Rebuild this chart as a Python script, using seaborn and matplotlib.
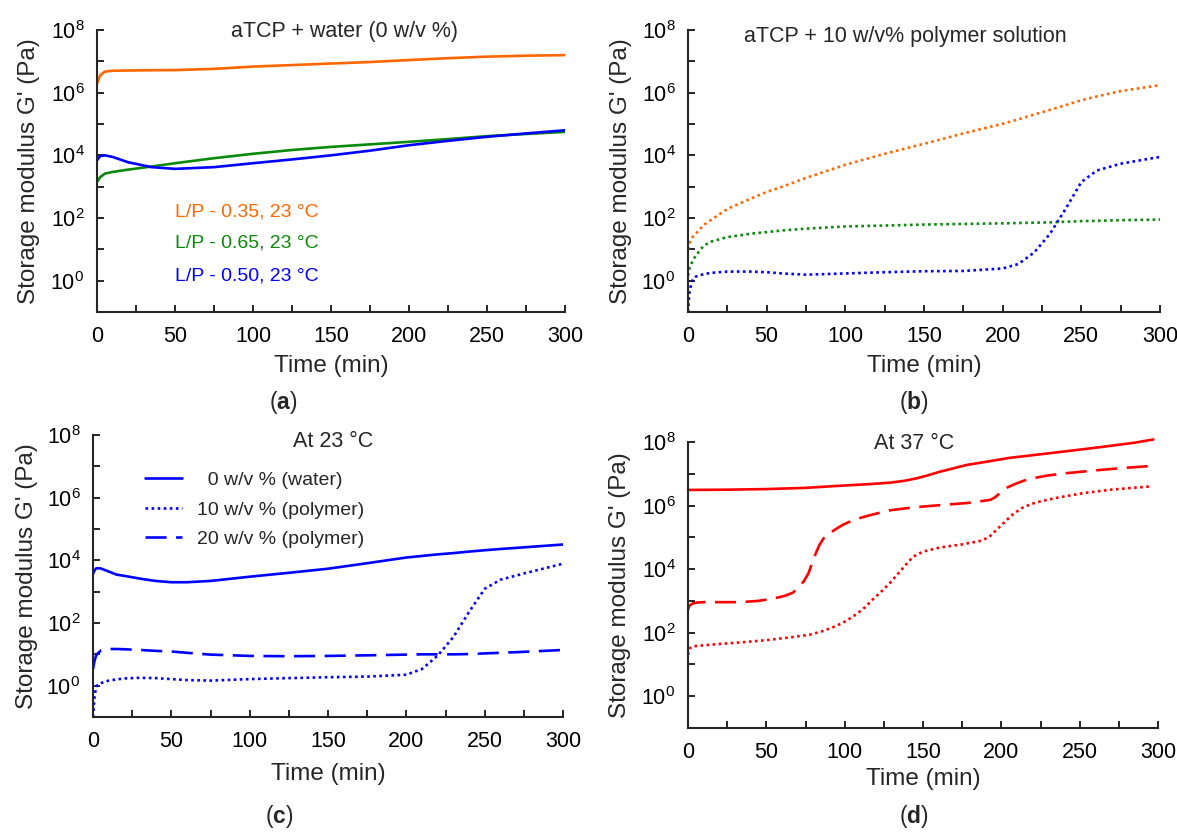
import matplotlib
matplotlib.use("Agg")
import matplotlib.pyplot as plt
import seaborn as sns

# ---------------- data: time (min) vs storage modulus G' (Pa) ----------------
# (a) aTCP + water, 23 °C, three liquid/powder ratios
t_a = [0, 2, 5, 10, 20, 35, 50, 75, 100, 125, 150, 175, 200, 225, 250, 275, 300]
g_a_lp035 = [1.95e6, 3.55e6, 4.7e6, 5.0e6, 5.1e6, 5.2e6, 5.25e6, 5.75e6, 6.8e6,
             7.6e6, 8.5e6, 9.5e6, 1.1e7, 1.26e7, 1.41e7, 1.51e7, 1.58e7]
g_a_lp065 = [1.4e3, 2.0e3, 2.6e3, 2.95e3, 3.5e3, 4.4e3, 5.6e3, 8.1e3, 1.12e4,
             1.48e4, 1.86e4, 2.24e4, 2.7e4, 3.3e4, 4.1e4, 4.8e4, 5.6e4]
g_a_lp050 = [6.9e3, 9.5e3, 1.0e4, 8.9e3, 6.0e3, 4.2e3, 3.7e3, 4.2e3, 5.6e3,
             7.4e3, 1.0e4, 1.41e4, 2.1e4, 2.9e4, 3.9e4, 5.0e4, 6.3e4]

# (b) aTCP + 10 w/v% polymer solution, same three ratios
t_b = [0, 1, 3, 5, 10, 15, 25, 40, 50, 60, 75, 100, 125, 150, 175, 200,
       210, 220, 230, 240, 250, 260, 275, 300]
g_b_lp035 = [10, 15.8, 25, 31.6, 60, 89, 195, 417, 676, 1.0e3, 1.9e3, 5.0e3, 1.12e4,
             2.34e4, 5.0e4, 1.02e5, 1.41e5, 2.0e5, 2.82e5, 3.98e5, 5.75e5,
             7.6e5, 1.12e6, 1.74e6]
g_b_lp065 = [1.45, 2.5, 4.4, 6.3, 13.2, 17.8, 24.5, 31.6, 35.5, 40, 45.7, 53.7, 57.5,
             61.7, 64.6, 67.6, 69.2, 70.8, 72.4, 75.9, 79.4, 81.3, 85.1, 89.1]
g_b_lp050 = [0.1, 0.48, 1.12, 1.35, 1.62, 1.78, 1.95, 1.95, 1.86, 1.7, 1.55, 1.7,
             1.86, 2.0, 2.04, 2.45, 3.4, 7.9, 31, 195, 1.41e3, 3.3e3, 5.4e3, 8.9e3]

# (c) L/P 0.50 at 23 °C, three liquid phases
t_c = [0, 1, 2, 3, 5, 8, 10, 15, 20, 30, 40, 50, 60, 75, 100, 125, 150, 175,
       200, 210, 220, 230, 240, 250, 260, 275, 300]
g_c_w0 = [3.7e3, 4.8e3, 5.5e3, 5.6e3, 5.5e3, 4.8e3, 4.4e3, 3.5e3, 3.2e3, 2.6e3,
          2.2e3, 2.0e3, 2.0e3, 2.2e3, 3.0e3, 4.0e3, 5.4e3, 8.1e3, 1.23e4, 1.38e4,
          1.55e4, 1.7e4, 1.9e4, 2.1e4, 2.3e4, 2.6e4, 3.2e4]
g_c_w10 = [0.1, 0.45, 0.9, 1.07, 1.2, 1.35, 1.45, 1.58, 1.7, 1.78, 1.74, 1.62,
           1.51, 1.45, 1.62, 1.74, 1.86, 1.95, 2.24, 3.4, 9.1, 35.5, 224, 1.23e3,
           2.4e3, 3.8e3, 7.8e3]
g_c_w20 = [3.4, 6.3, 9.1, 10.7, 13.2, 14.1, 14.8, 14.8, 14.5, 13.8, 12.9, 12.3,
           11.2, 9.8, 8.9, 8.7, 8.9, 9.3, 9.8, 10, 10, 10, 10.2, 10.7, 11.2, 12, 13.8]

# (d) L/P 0.50 at 37 °C, three liquid phases
t_d_w0 = [0, 25, 50, 75, 97, 115, 129, 138, 146, 153, 161, 170, 178, 186, 195,
          205, 215, 230, 252, 270, 285, 297]
g_d_w0 = [3.1e6, 3.16e6, 3.3e6, 3.6e6, 4.2e6, 4.7e6, 5.25e6, 6.0e6, 7.2e6, 8.9e6,
          1.17e7, 1.51e7, 1.9e7, 2.2e7, 2.6e7, 3.16e7, 3.6e7, 4.4e7, 5.9e7, 7.6e7,
          9.5e7, 1.2e8]
t_d_w10 = [0, 1, 3, 10, 20, 33, 50, 65, 78, 86, 94, 101, 108, 113, 118, 124, 129,
           134, 138, 141, 144, 150, 161, 175, 186, 192, 197, 202, 207, 213, 219,
           225, 235, 252, 270, 295]
g_d_w10 = [20, 32, 37, 40, 44, 49, 58, 71, 87, 112, 158, 234, 398, 631, 1.12e3,
           2.1e3, 3.7e3, 7.1e3, 1.2e4, 1.78e4, 2.5e4, 3.55e4, 4.8e4, 6.0e4, 7.6e4,
           1.0e5, 1.74e5, 3.0e5, 5.1e5, 8.3e5, 1.12e6, 1.35e6, 1.74e6, 2.45e6,
           3.16e6, 4.0e6]
t_d_w20 = [0, 1, 3, 6, 10, 20, 33, 45, 55, 62, 67, 71, 74, 77, 80, 82, 84, 87, 91,
           95, 99, 105, 110, 118, 129, 140, 150, 165, 178, 186, 193, 196, 199, 203,
           208, 214, 220, 230, 242, 252, 263, 280, 297]
g_d_w20 = [525, 710, 830, 890, 912, 912, 912, 1.0e3, 1.2e3, 1.45e3, 1.82e3, 2.8e3,
           4.2e3, 7.6e3, 2.0e4, 3.55e4, 5.9e4, 1.0e5, 1.41e5, 1.9e5, 2.5e5, 3.4e5,
           4.1e5, 5.25e5, 7.1e5, 8.3e5, 9.3e5, 1.07e6, 1.2e6, 1.35e6, 1.51e6,
           1.82e6, 2.45e6, 3.55e6, 4.6e6, 6.0e6, 7.2e6, 8.9e6, 1.05e7, 1.17e7,
           1.32e7, 1.55e7, 1.78e7]

x_ticks = [0, 50, 100, 150, 200, 250, 300]
y_ticks = [1e0, 1e2, 1e4, 1e6, 1e8]
y_ticklabels = [r"$10^{0}$", r"$10^{2}$", r"$10^{4}$", r"$10^{6}$", r"$10^{8}$"]

# ---------------- style ----------------
sns.set_style("ticks")
plt.rcParams["font.family"] = ["Liberation Sans", "DejaVu Sans"]
plt.rcParams["mathtext.fontset"] = "custom"
plt.rcParams["mathtext.rm"] = "Liberation Sans"
plt.rcParams["mathtext.bf"] = "Liberation Sans:bold"
plt.rcParams["axes.linewidth"] = 1.5

ORANGE = "#FF6600"
GREEN = "#0A8A0A"
BLUE = "#0000FF"
RED = "#FF0000"
LW = 1.9
DOT = (0, (1.0, 1.3))
DASH = (0, (8, 3.6))

fig = plt.figure(figsize=(11.77, 8.32), dpi=100)

W, H = 1177, 832


def make_axes(left, top, right, bottom):
    return fig.add_axes([left / W, 1 - bottom / H, (right - left) / W, (bottom - top) / H])


ax_a = make_axes(97, 30, 565, 312)
ax_b = make_axes(688, 30, 1160, 312)
ax_c = make_axes(93, 435, 563, 717)
ax_d = make_axes(688, 442, 1158, 728)

for ax in (ax_a, ax_b, ax_c, ax_d):
    ax.set_yscale("log")


def curve(ax, t, g, color, ls="-", label=None, clip=True):
    sns.lineplot(x=t, y=g, ax=ax, color=color, linestyle=ls, linewidth=LW,
                 estimator=None, sort=False, label=label, legend=False, clip_on=clip)


# (a)
curve(ax_a, t_a, g_a_lp035, ORANGE)
curve(ax_a, t_a, g_a_lp065, GREEN)
curve(ax_a, t_a, g_a_lp050, BLUE)

# (b)
curve(ax_b, t_b, g_b_lp035, ORANGE, DOT)
curve(ax_b, t_b, g_b_lp065, GREEN, DOT)
curve(ax_b, t_b, g_b_lp050, BLUE, DOT)

# (c)
curve(ax_c, t_c, g_c_w0, BLUE, "-", "  0 w/v % (water)")
curve(ax_c, t_c, g_c_w10, BLUE, DOT, "10 w/v % (polymer)")
curve(ax_c, t_c, g_c_w20, BLUE, DASH, "20 w/v % (polymer)")

# (d)
curve(ax_d, t_d_w0, g_d_w0, RED, "-", clip=False)
curve(ax_d, t_d_w10, g_d_w10, RED, DOT, clip=False)
curve(ax_d, t_d_w20, g_d_w20, RED, DASH, clip=False)

# shared axis formatting
label_pos = {ax_a: (-0.122, -0.152), ax_b: (-0.119, -0.152),
             ax_c: (-0.117, -0.163), ax_d: (-0.121, -0.14)}
for ax in (ax_a, ax_b, ax_c, ax_d):
    ax.set_xlim(0, 300)
    ax.set_ylim(1e-1, 1e8)
    ax.set_xticks(x_ticks)
    ax.set_xticks([25, 75, 125, 175, 225, 275], minor=True)
    ax.set_yticks(y_ticks, labels=y_ticklabels)
    ax.set_yticks([1e1, 1e3, 1e5, 1e7], minor=True)
    ax.yaxis.set_minor_formatter(plt.NullFormatter())
    ax.tick_params(axis="both", which="both", direction="in", length=5, width=1.2,
                   colors="black", labelsize=15.5)
    ax.tick_params(axis="x", which="both", pad=10)
    ax.tick_params(axis="y", which="both", pad=9)
    for side in ("top", "right"):
        ax.spines[side].set_visible(False)
    ax.set_xlabel("Time (min)", fontsize=17.5)
    ax.set_ylabel("Storage modulus G' (Pa)", fontsize=17.5)
    xl, yl = label_pos[ax]
    ax.yaxis.set_label_coords(xl, 0.5)
    ax.xaxis.set_label_coords(0.5, yl)

# panel headings
ax_a.text(0.529, 0.975, "aTCP + water (0 w/v %)", transform=ax_a.transAxes,
          ha="center", va="baseline", fontsize=15.5)
ax_b.text(0.46, 0.957, "aTCP + 10 w/v% polymer solution", transform=ax_b.transAxes,
          ha="center", va="baseline", fontsize=15.5)
ax_c.text(0.511, 0.957, "At 23 °C", transform=ax_c.transAxes,
          ha="center", va="baseline", fontsize=15.5)
ax_d.text(0.482, 0.976, "At 37 °C", transform=ax_d.transAxes,
          ha="center", va="baseline", fontsize=15.5)

# (a) coloured series labels
for txt, col, yy in (("L/P - 0.35, 23 °C", ORANGE, 0.337),
                     ("L/P - 0.65, 23 °C", GREEN, 0.23),
                     ("L/P - 0.50, 23 °C", BLUE, 0.113)):
    ax_a.text(0.167, yy, txt, color=col, transform=ax_a.transAxes,
              ha="left", va="baseline", fontsize=14)

# (c) legend
ax_c.legend(loc="upper left", bbox_to_anchor=(0.11, 0.87), frameon=False,
            fontsize=14, handlelength=1.9, handletextpad=0.8, labelspacing=0.6,
            borderpad=0, borderaxespad=0)

# sub-figure captions
for txt, xx, yy in ((r"($\mathbf{a}$)", 283, 403), (r"($\mathbf{b}$)", 914, 403),
                    (r"($\mathbf{c}$)", 279, 817), (r"($\mathbf{d}$)", 914, 817)):
    fig.text(xx / W, 1 - yy / H, txt, ha="center", va="center", fontsize=16.5)

fig.savefig("out.png", dpi=100)
